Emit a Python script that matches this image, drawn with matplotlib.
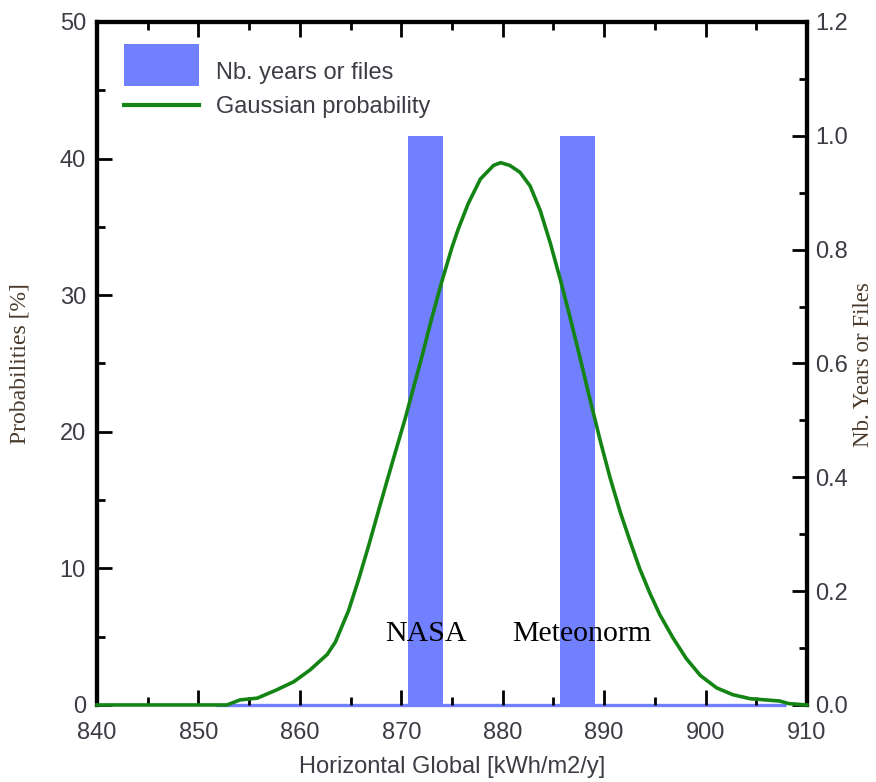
import matplotlib
matplotlib.use('Agg')
import matplotlib.pyplot as plt
from matplotlib.patches import Rectangle, Patch
from matplotlib.lines import Line2D
from matplotlib.legend_handler import HandlerPatch
from matplotlib.ticker import MultipleLocator


# yearly sums histogram: bin centres (kWh/m2/y) and number of files per bin
bin_centers = [853.6, 857.4, 861.1, 864.9, 868.6, 872.4, 876.1, 879.9,
               883.6, 887.4, 891.1, 894.9, 898.6, 902.4, 906.1]
bin_counts = [0, 0, 0, 0, 0, 1, 0, 0, 0, 1, 0, 0, 0, 0, 0]
BIN_WIDTH = 3.75
BAR_WIDTH = 3.45

# fitted normal distribution, in percent
gauss_x = [840.0, 852.8, 854.1, 855.8, 857.7, 859.4, 861.0, 862.7, 863.5,
           864.8, 865.8, 866.8, 867.9, 869.1, 870.4, 871.2, 872.0, 873.0,
           874.0, 875.0, 875.6, 876.6, 877.8, 879.1, 879.8, 880.7, 881.7,
           882.7, 883.7, 884.7, 885.7, 886.6, 887.6, 888.6, 889.6, 890.6,
           891.6, 892.6, 893.5, 894.5, 895.5, 896.8, 898.1, 899.5, 901.1,
           902.7, 904.4, 907.3, 908.2, 910.0]
gauss_y = [0.0, 0.0, 0.37, 0.5, 1.1, 1.7, 2.56, 3.7, 4.6,
           6.9, 9.2, 11.7, 14.6, 17.7, 21.0, 23.2, 25.4, 28.3,
           31.0, 33.5, 34.8, 36.7, 38.5, 39.5, 39.7, 39.5, 39.0,
           38.0, 36.2, 33.8, 31.1, 28.5, 25.5, 22.4, 19.4, 16.6,
           14.1, 11.9, 10.0, 8.2, 6.6, 4.9, 3.4, 2.15, 1.25,
           0.75, 0.46, 0.29, 0.1, 0.0]

sources = ['NASA', 'Meteonorm']
source_pos = [(868.4, 5.2), (880.9, 5.2)]

BAR_COLOR = '#7080ff'
LINE_COLOR = '#148414'
TICK_COLOR = '#3c3c44'
LABEL_COLOR = '#4a3a2c'

plt.rcParams['font.family'] = ['Liberation Sans', 'DejaVu Sans']

fig = plt.figure(figsize=(8.76, 7.82), dpi=100)
ax = fig.add_axes([0.1107, 0.0985, 0.8105, 0.8734])
ax2 = ax.twinx()
ax.set_zorder(ax2.get_zorder() + 1)
ax.patch.set_visible(False)

# bars on the right-hand scale, with a blue baseline across all bins
ax2.bar(bin_centers, bin_counts, width=BAR_WIDTH, color=BAR_COLOR,
        linewidth=0, zorder=2)
ax2.hlines(0, min(bin_centers) - BIN_WIDTH / 2, max(bin_centers) + BIN_WIDTH / 2,
           color=BAR_COLOR, linewidth=2.4, zorder=2, clip_on=False)

ax.plot(gauss_x, gauss_y, color=LINE_COLOR, linewidth=2.6, zorder=3,
        solid_joinstyle='round', clip_on=False)

for name, (tx, ty) in zip(sources, source_pos):
    ax.text(tx, ty, name, family='Liberation Serif', fontsize=21.5,
            color='black', va='center', ha='left', zorder=5)

ax.set_xlim(840, 910)
ax.set_ylim(0, 50)
ax2.set_ylim(0, 1.2)

ax.xaxis.set_major_locator(MultipleLocator(10))
ax.xaxis.set_minor_locator(MultipleLocator(5))
ax.yaxis.set_major_locator(MultipleLocator(10))
ax.yaxis.set_minor_locator(MultipleLocator(5))
ax2.yaxis.set_major_locator(MultipleLocator(0.2))
ax2.yaxis.set_minor_locator(MultipleLocator(0.1))
ax2.yaxis.set_major_formatter(plt.FormatStrFormatter('%.1f'))

for a in (ax, ax2):
    for side in ('left', 'right', 'top'):
        a.spines[side].set_linewidth(3)
        a.spines[side].set_color('black')
    a.spines['bottom'].set_visible(False)

ax.tick_params(which='both', direction='in', top=True, bottom=True,
               right=False, color='black', width=2, labelsize=17,
               labelcolor=TICK_COLOR)
ax.tick_params(axis='x', pad=12)
ax.tick_params(axis='y', pad=8)
ax.tick_params(which='major', length=11)
ax.tick_params(which='minor', length=6)
ax2.tick_params(which='both', direction='in', color='black', width=2,
                labelsize=17, labelcolor=TICK_COLOR, pad=6)
ax2.tick_params(which='major', length=11)
ax2.tick_params(which='minor', length=6)

ax.set_xlabel('Horizontal Global [kWh/m2/y]', fontsize=17,
              color=TICK_COLOR)
ax.xaxis.set_label_coords(0.5, -0.074)
ax.set_ylabel('Probabilities [%]', family='Liberation Serif', fontsize=17,
              color=LABEL_COLOR)
ax.yaxis.set_label_coords(-0.093, 0.5)
ax2.set_ylabel('Nb. Years or Files', family='Liberation Serif', fontsize=16.5,
               color=LABEL_COLOR, rotation=90, va='center')
ax2.yaxis.set_label_coords(1.079, 0.499)


def tall_patch(legend, orig_handle, xdescent, ydescent, width, height, fontsize):
    return Rectangle((-xdescent, -ydescent - 0.41 * height), width, 2.55 * height)


handles = [Patch(facecolor=BAR_COLOR, edgecolor='none'),
           Line2D([], [], color=LINE_COLOR, linewidth=3)]
ax.legend(handles, ['Nb. years or files', 'Gaussian probability'],
          loc='upper left', bbox_to_anchor=(0.008, 0.972), frameon=False,
          fontsize=17, handlelength=3.18, handletextpad=0.72, labelspacing=0.5,
          handler_map={Patch: HandlerPatch(patch_func=tall_patch)},
          labelcolor=TICK_COLOR)

fig.savefig('out.png', dpi=100)
